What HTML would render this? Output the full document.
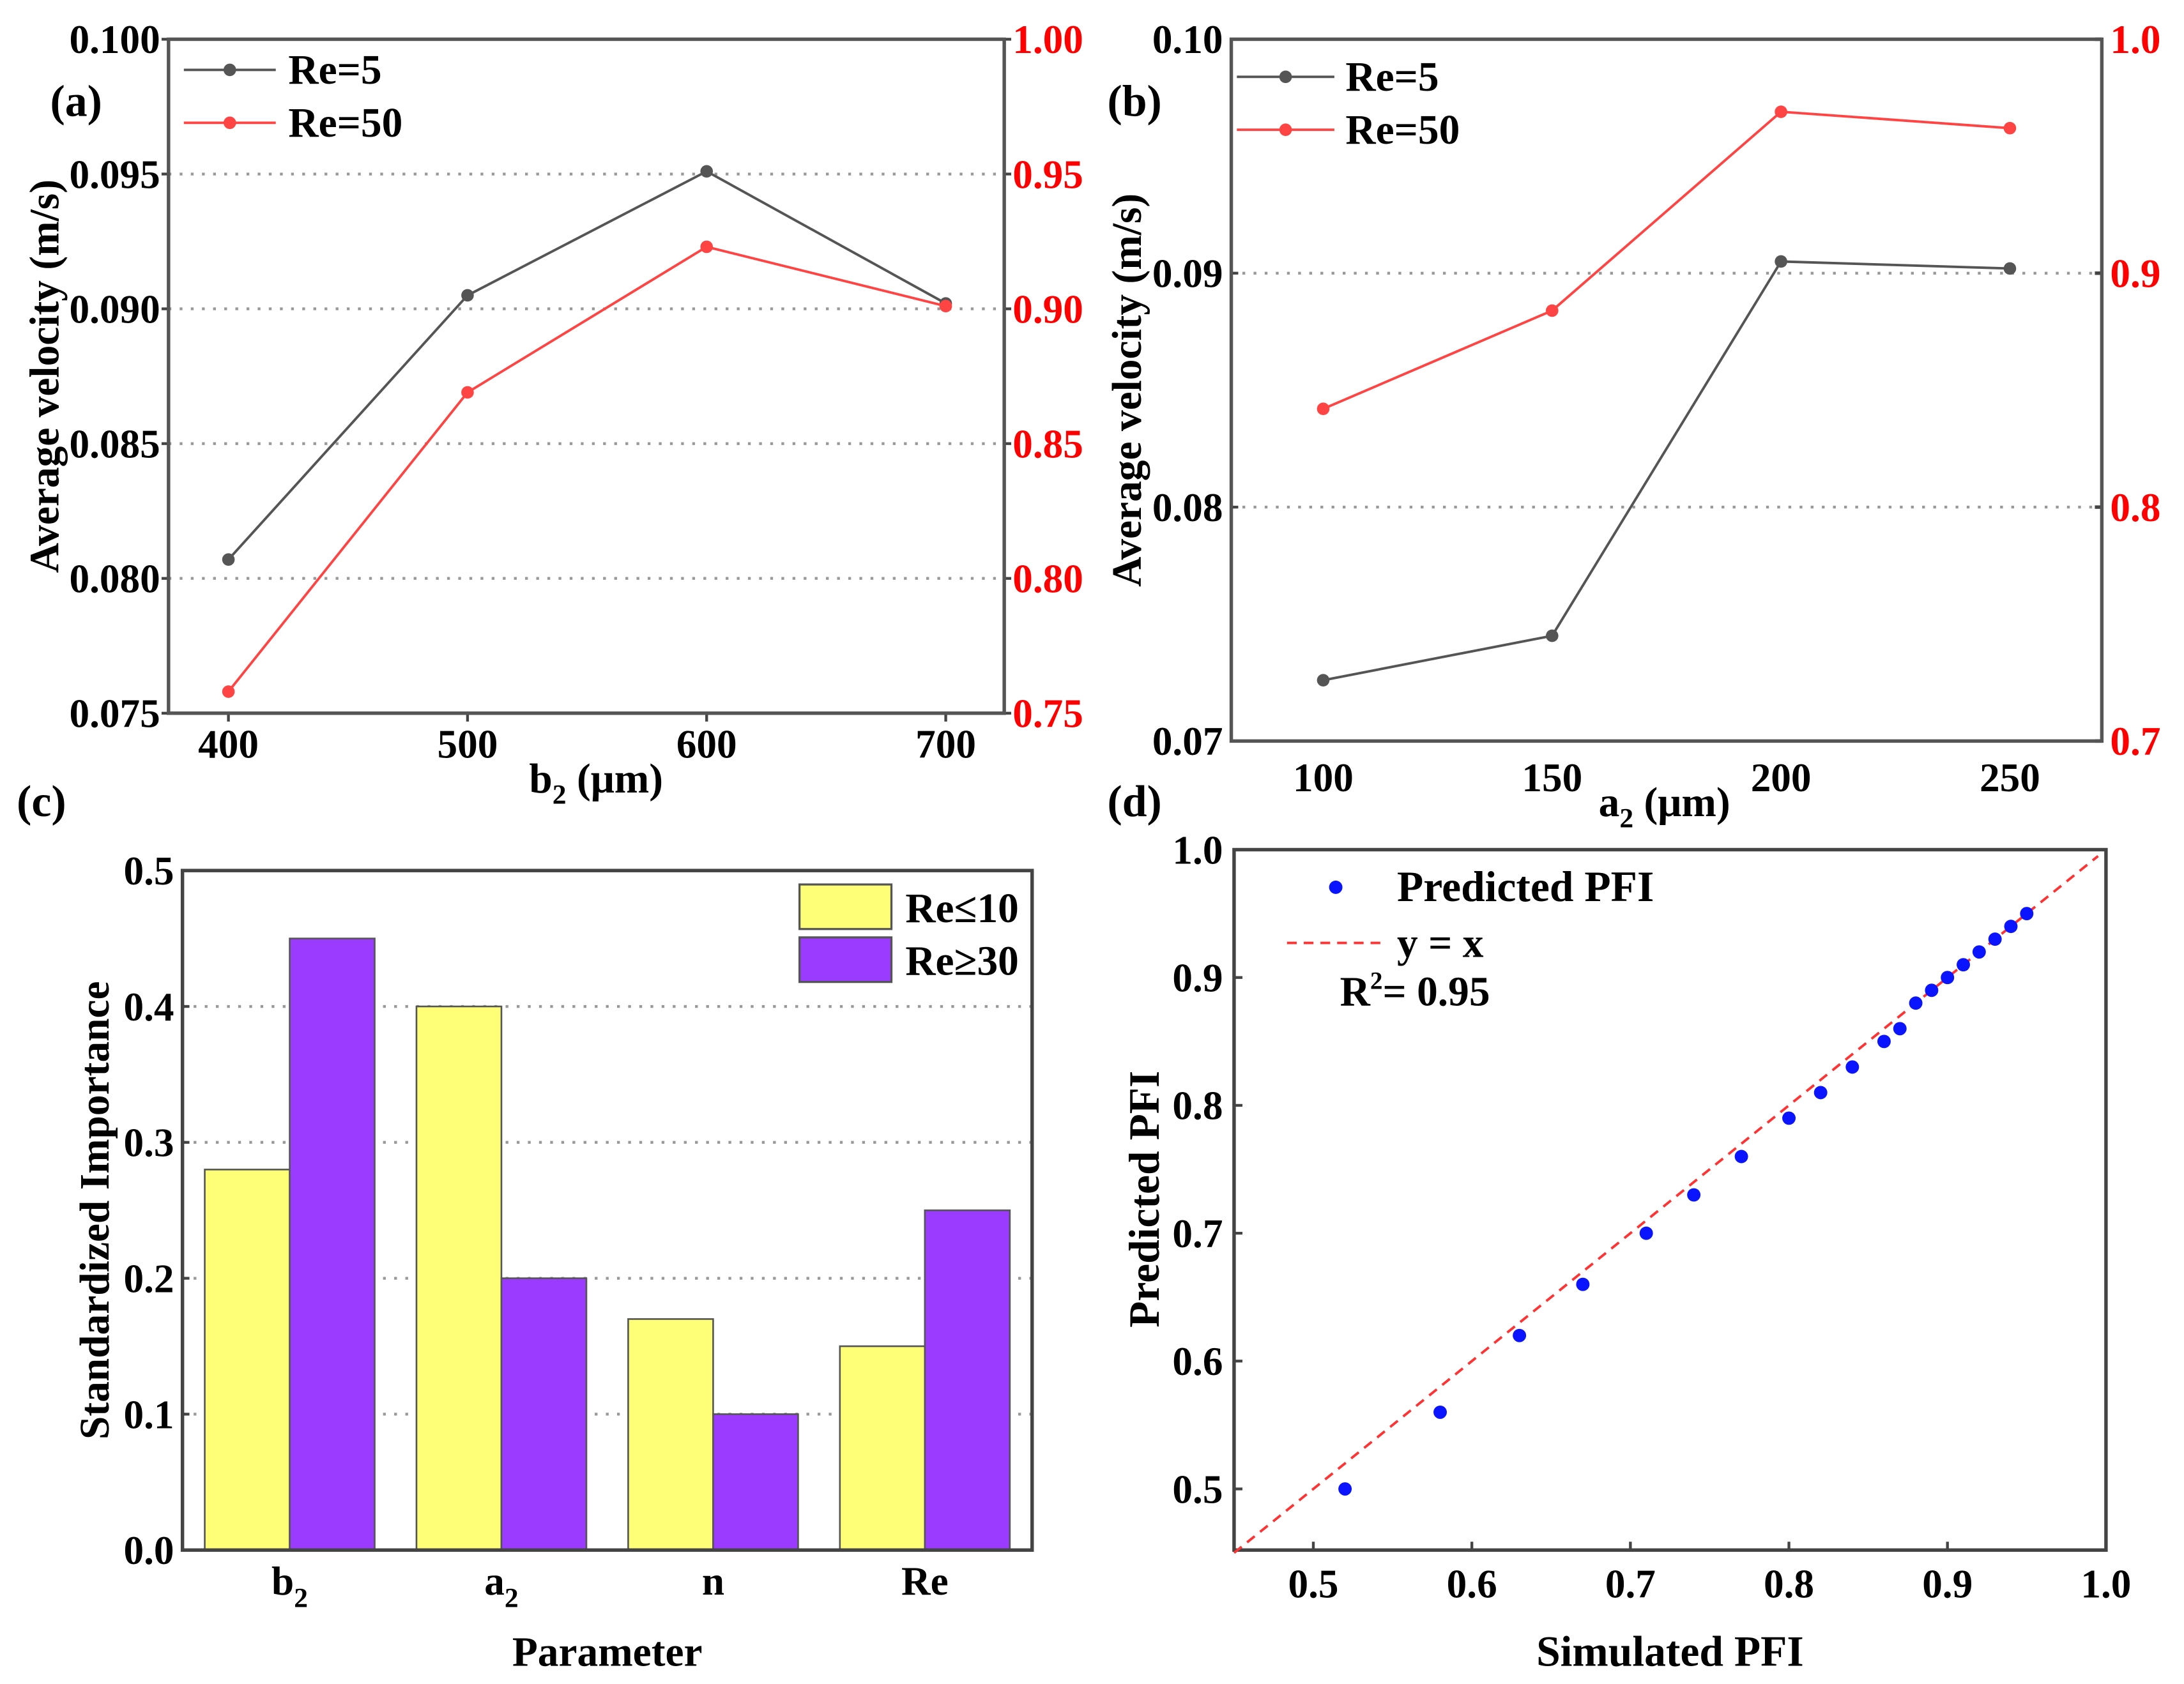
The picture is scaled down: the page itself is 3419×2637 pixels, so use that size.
<!DOCTYPE html>
<html><head><meta charset="utf-8"><style>
html,body{margin:0;padding:0;background:#fff}
svg{display:block}
text{font-family:"Liberation Serif",serif;font-weight:bold}
</style></head><body>
<svg id="fig" width="3419" height="2637" viewBox="0 0 1568 1209" xmlns="http://www.w3.org/2000/svg"></svg>
<script>
// ---- data ----
const aX = [400, 500, 600, 700];
const aRe5 = [0.0807, 0.0905, 0.0951, 0.0902];
const aRe50 = [0.758, 0.869, 0.923, 0.901];
const aLeftTicks = ["0.075","0.080","0.085","0.090","0.095","0.100"];
const aRightTicks = ["0.75","0.80","0.85","0.90","0.95","1.00"];

const bX = [100, 150, 200, 250];
const bRe5 = [0.0726, 0.0745, 0.0905, 0.0902];
const bRe50 = [0.842, 0.884, 0.969, 0.962];
const bLeftTicks = ["0.07","0.08","0.09","0.10"];
const bRightTicks = ["0.7","0.8","0.9","1.0"];

const cCats = ["b", "a", "n", "Re"];
const cLow = [0.28, 0.40, 0.17, 0.15];
const cHigh = [0.45, 0.20, 0.10, 0.25];
const cTicks = ["0.0","0.1","0.2","0.3","0.4","0.5"];

const dSim = [0.52,0.58,0.63,0.67,0.71,0.74,0.77,0.80,0.82,0.84,0.86,0.87,0.88,0.89,0.90,0.91,0.92,0.93,0.94,0.95];
const dPred = [0.50,0.56,0.62,0.66,0.70,0.73,0.76,0.79,0.81,0.83,0.85,0.86,0.88,0.89,0.90,0.91,0.92,0.93,0.94,0.95];
const dTicks = ["0.5","0.6","0.7","0.8","0.9","1.0"];

const TK = 29, LG = 30, TT = 30;
const svg = document.getElementById('fig');
const NS = "http://www.w3.org/2000/svg";
function el(tag, attrs, parent, txt){
  const e = document.createElementNS(NS, tag);
  for (const k in attrs) e.setAttribute(k, attrs[k]);
  if (txt !== undefined) e.textContent = txt;
  (parent || svg).appendChild(e);
  return e;
}
function lin(d0,d1,r0,r1){return v => r0 + (v-d0)/(d1-d0)*(r1-r0);}

// ---------- Panel (a) ----------
(function(){
  const g = el('g',{});
  
  
  const L=121,R=721,T=28,B=512;
  const y = lin(0.075,0.100,B,T), yr = lin(0.75,1.00,B,T), x = lin(400,700,164,679);
  aLeftTicks.forEach((t,i)=>{
    const v=parseFloat(t), yy=y(v);
    if(i>0&&i<aLeftTicks.length-1){const gl=el('line',{x1:L,x2:R,y1:yy,y2:yy,stroke:'#999','stroke-width':2,'stroke-dasharray':'2,6'},g);}
    el('line',{x1:L-5,x2:L,y1:yy,y2:yy,stroke:'#444','stroke-width':2},g);
    const tl=el('text',{x:L-6,y:yy+10,'text-anchor':'end','font-size':TK},g,t);
    
  });
  aRightTicks.forEach(t=>{
    const yy=yr(parseFloat(t));
    el('line',{x1:R,x2:R+5,y1:yy,y2:yy,stroke:'#444','stroke-width':2},g);
    const tl=el('text',{x:R+6,y:yy+10,'font-size':TK,fill:'#ff0000'},g,t);
    
  });
  aX.forEach(v=>{
    el('line',{x1:x(v),x2:x(v),y1:B,y2:B+6,stroke:'#444','stroke-width':2},g);
    const tl=el('text',{x:x(v),y:B+32,'text-anchor':'middle','font-size':TK},g,v);
    
  });
  const box=el('rect',{x:L,y:T,width:R-L,height:B-T,fill:'none',stroke:'#555','stroke-width':2.5},g);
  
  const p1=el('polyline',{points:aX.map((v,i)=>x(v)+','+y(aRe5[i])).join(' '),fill:'none',stroke:'#555','stroke-width':1.8},g);
  
  aX.forEach((v,i)=>{const c=el('circle',{cx:x(v),cy:y(aRe5[i]),r:4.5,fill:'#555'},g);});
  const p2=el('polyline',{points:aX.map((v,i)=>x(v)+','+yr(aRe50[i])).join(' '),fill:'none',stroke:'#ff4444','stroke-width':1.8},g);
  
  aX.forEach((v,i)=>{const c=el('circle',{cx:x(v),cy:yr(aRe50[i]),r:4.5,fill:'#ff4444'},g);});
  el('line',{x1:132,x2:198,y1:50,y2:50,stroke:'#555','stroke-width':1.8},g);
  el('circle',{cx:165,cy:50,r:4.5,fill:'#555'},g);
  const l1=el('text',{x:207,y:60,'font-size':LG},g,'Re=5');
  el('line',{x1:132,x2:198,y1:88,y2:88,stroke:'#ff4444','stroke-width':1.8},g);
  el('circle',{cx:165,cy:88,r:4.5,fill:'#ff4444'},g);
  const l2=el('text',{x:207,y:98,'font-size':LG},g,'Re=50');
  const pl=el('text',{x:36,y:83,'font-size':32},g,'(a)');
  const yt=el('text',{x:0,y:0,'text-anchor':'middle','font-size':TT,transform:'translate(42,270) rotate(-90)'},g,'Average velocity (m/s)');
  
  const xt=el('text',{x:428,y:569,'text-anchor':'middle','font-size':TT},g);
  
  xt.innerHTML='b<tspan font-size="20" dy="8">2</tspan><tspan dy="-8"> (μm)</tspan>';
})();

// ---------- Panel (b) ----------
(function(){
  const g = el('g',{});
  
  
  const L=884,R=1509,T=28,B=532;
  const y = lin(0.07,0.10,B,T), yr = lin(0.7,1.0,B,T), x = lin(100,250,950,1443);
  bLeftTicks.forEach((t,i)=>{
    const yy=y(parseFloat(t));
    if(i>0&&i<bLeftTicks.length-1){const gl=el('line',{x1:L,x2:R,y1:yy,y2:yy,stroke:'#999','stroke-width':2,'stroke-dasharray':'2,6'},g);}
    el('line',{x1:L,x2:L+5,y1:yy,y2:yy,stroke:'#444','stroke-width':2},g);
    const tl=el('text',{x:L-6,y:yy+10,'text-anchor':'end','font-size':TK},g,t);
    
  });
  bRightTicks.forEach(t=>{
    const yy=yr(parseFloat(t));
    el('line',{x1:R-5,x2:R,y1:yy,y2:yy,stroke:'#444','stroke-width':2.5},g);
    const tl=el('text',{x:R+6,y:yy+10,'font-size':TK,fill:'#ff0000'},g,t);
    
  });
  bX.forEach(v=>{
    const tl=el('text',{x:x(v),y:B+36,'text-anchor':'middle','font-size':TK},g,v);
    
  });
  const box=el('rect',{x:L,y:T,width:R-L,height:B-T,fill:'none',stroke:'#555','stroke-width':2.5},g);
  
  const p1=el('polyline',{points:bX.map((v,i)=>x(v)+','+y(bRe5[i])).join(' '),fill:'none',stroke:'#555','stroke-width':1.8},g);
  
  bX.forEach((v,i)=>{const c=el('circle',{cx:x(v),cy:y(bRe5[i]),r:4.5,fill:'#555'},g);});
  const p2=el('polyline',{points:bX.map((v,i)=>x(v)+','+yr(bRe50[i])).join(' '),fill:'none',stroke:'#ff4444','stroke-width':1.8},g);
  
  bX.forEach((v,i)=>{const c=el('circle',{cx:x(v),cy:yr(bRe50[i]),r:4.5,fill:'#ff4444'},g);});
  el('line',{x1:888,x2:958,y1:55,y2:55,stroke:'#555','stroke-width':1.8},g);
  el('circle',{cx:923,cy:55,r:4.5,fill:'#555'},g);
  const l1=el('text',{x:966,y:65,'font-size':LG},g,'Re=5');
  el('line',{x1:888,x2:958,y1:93,y2:93,stroke:'#ff4444','stroke-width':1.8},g);
  el('circle',{cx:923,cy:93,r:4.5,fill:'#ff4444'},g);
  const l2=el('text',{x:966,y:103,'font-size':LG},g,'Re=50');
  const pl=el('text',{x:795,y:83,'font-size':32},g,'(b)');
  const yt=el('text',{x:0,y:0,'text-anchor':'middle','font-size':TT,transform:'translate(819,280) rotate(-90)'},g,'Average velocity (m/s)');
  
  const xt=el('text',{x:1195,y:586,'text-anchor':'middle','font-size':TT},g);
  
  xt.innerHTML='a<tspan font-size="20" dy="8">2</tspan><tspan dy="-8"> (μm)</tspan>';
})();

// ---------- Panel (c) ----------
(function(){
  const g = el('g',{});
  
  
  const L=131,R=741,T=625,B=1113;
  const y = lin(0,0.5,B,T);
  const groupW=152, barW=61, first=208;
  cTicks.forEach((t,i)=>{
    const yy=y(parseFloat(t));
    if(i>0&&i<cTicks.length-1){const gl=el('line',{x1:L,x2:R,y1:yy,y2:yy,stroke:'#999','stroke-width':2,'stroke-dasharray':'2,6'},g);}
    el('line',{x1:L,x2:L+5,y1:yy,y2:yy,stroke:'#444','stroke-width':2},g);
    const tl=el('text',{x:L-6,y:yy+10,'text-anchor':'end','font-size':TK},g,t);
    
  });
  cCats.forEach((c,i)=>{
    const cx=first+i*groupW;
    const b1=el('rect',{x:cx-barW,y:y(cLow[i]),width:barW,height:B-y(cLow[i]),fill:'#ffff77',stroke:'#555','stroke-width':1.2},g);
    
    const b2=el('rect',{x:cx,y:y(cHigh[i]),width:barW,height:B-y(cHigh[i]),fill:'#9b3bff',stroke:'#555','stroke-width':1.2},g);
    
    const tl=el('text',{x:cx,y:1145,'text-anchor':'middle','font-size':TK},g);
    
    tl.textContent=c;
    if(c==='b'||c==='a'){el('tspan',{'font-size':20,dy:9},tl,'2');}
  });
  const box=el('rect',{x:L,y:T,width:R-L,height:B-T,fill:'none',stroke:'#444','stroke-width':2.5},g);
  
  const lb1=el('rect',{x:574,y:635,width:66,height:32,fill:'#ffff77',stroke:'#555','stroke-width':1.5},g);
  
  const lt1=el('text',{x:650,y:662,'font-size':LG},g,'Re≤10');
  const lb2=el('rect',{x:574,y:673,width:66,height:32,fill:'#9b3bff',stroke:'#555','stroke-width':1.5},g);
  
  const lt2=el('text',{x:650,y:700,'font-size':LG},g,'Re≥30');
  const pl=el('text',{x:12,y:586,'font-size':32},g,'(c)');
  const yt=el('text',{x:0,y:0,'text-anchor':'middle','font-size':TT,transform:'translate(78,869) rotate(-90)'},g,'Standardized Importance');
  
  const xt=el('text',{x:436,y:1196,'text-anchor':'middle','font-size':TT},g,'Parameter');
  
})();

// ---------- Panel (d) ----------
(function(){
  const g = el('g',{});
  
  
  const L=886,R=1512,T=610,B=1113;
  const x = lin(0.45,1.0,886,1512), y = lin(0.45,1.0,1115,610);
  dTicks.forEach(t=>{
    const v=parseFloat(t);
    el('line',{x1:x(v),x2:x(v),y1:B,y2:B-6,stroke:'#444','stroke-width':2},g);
    el('line',{x1:L,x2:L+6,y1:y(v),y2:y(v),stroke:'#444','stroke-width':2},g);
    const xl=el('text',{x:x(v),y:1147,'text-anchor':'middle','font-size':TK},g,t);
    
    const yl=el('text',{x:L-8,y:y(v)+10,'text-anchor':'end','font-size':TK},g,t);
    
  });
  const box=el('rect',{x:L,y:T,width:R-L,height:B-T,fill:'none',stroke:'#444','stroke-width':2.5},g);
  
  const ref=el('line',{x1:x(0.45),y1:y(0.45),x2:x(0.995),y2:y(0.995),stroke:'#ff3333','stroke-width':1.8,'stroke-dasharray':'7,5'},g);
  
  dSim.forEach((v,i)=>{
    const c=el('circle',{cx:x(v),cy:y(dPred[i]),r:4.8,fill:'#0a14ff'},g);
    
  });
  el('circle',{cx:959,cy:637,r:4.8,fill:'#0a14ff'},g);
  const l1=el('text',{x:1003,y:647,'font-size':LG+1},g,'Predicted PFI');
  el('line',{x1:924,x2:995,y1:677,y2:677,stroke:'#ff3333','stroke-width':1.8,'stroke-dasharray':'7,5'},g);
  const l2=el('text',{x:1003,y:687,'font-size':LG},g,'y = x');
  const r2=el('text',{x:962,y:722,'font-size':LG},g);
  r2.innerHTML='R<tspan font-size="18" dy="-12">2</tspan><tspan dy="12">= 0.95</tspan>';
  const pl=el('text',{x:795,y:586,'font-size':32},g,'(d)');
  const yt=el('text',{x:0,y:0,'text-anchor':'middle','font-size':TT+1,transform:'translate(832,861) rotate(-90)'},g,'Predicted PFI');
  
  const xt=el('text',{x:1199,y:1196,'text-anchor':'middle','font-size':TT+1},g,'Simulated PFI');
  
})();
</script>
</body></html>
